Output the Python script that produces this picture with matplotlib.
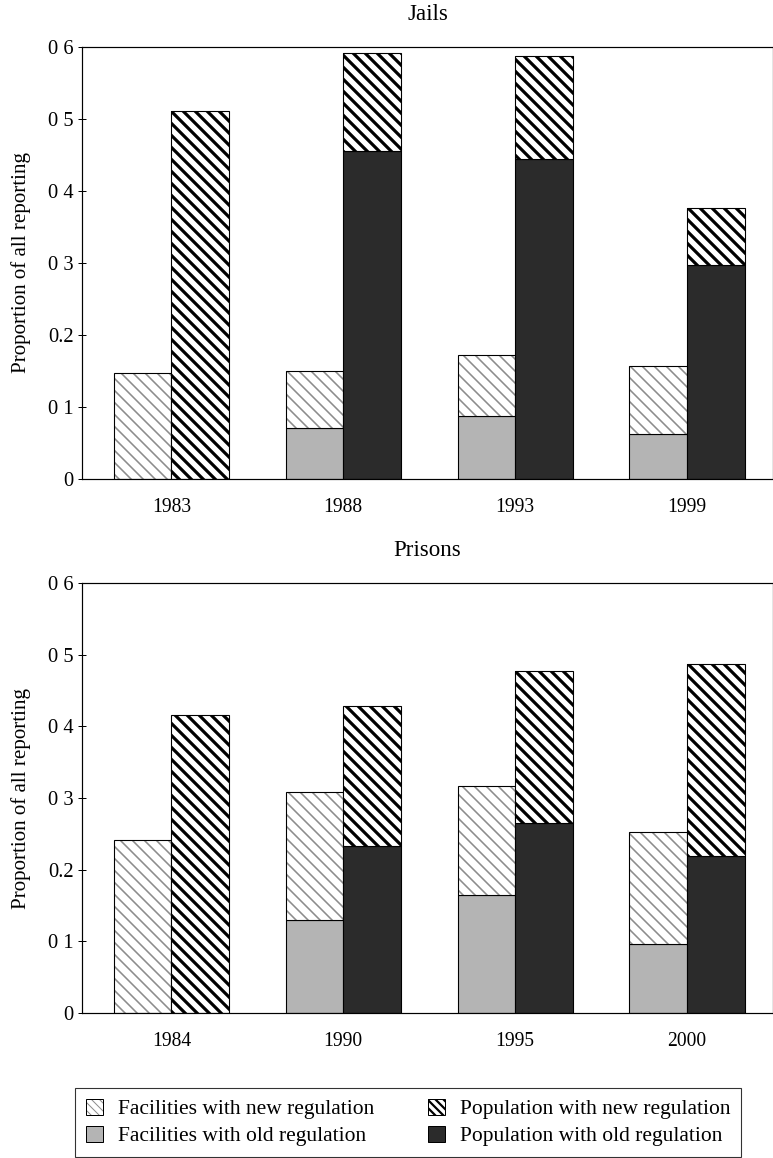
import matplotlib.pyplot as plt
import numpy as np
from matplotlib.patches import Patch, Rectangle
from matplotlib.legend_handler import HandlerBase

plt.rcParams["font.family"] = ["Liberation Serif", "DejaVu Serif"]

jail_years = ["1983", "1988", "1993", "1999"]
jail_fac_old = [0.0, 0.071, 0.088, 0.063]
jail_fac_total = [0.147, 0.150, 0.172, 0.157]
jail_pop_old = [0.0, 0.456, 0.445, 0.297]
jail_pop_total = [0.511, 0.591, 0.587, 0.376]

prison_years = ["1984", "1990", "1995", "2000"]
prison_fac_old = [0.0, 0.130, 0.165, 0.097]
prison_fac_total = [0.241, 0.309, 0.317, 0.252]
prison_pop_old = [0.0, 0.233, 0.265, 0.219]
prison_pop_total = [0.416, 0.429, 0.477, 0.487]

yticks = [0, 0.1, 0.2, 0.3, 0.4, 0.5, 0.6]
ytick_labels = ["0", "0 1", "0.2", "0 3", "0 4", "0 5", "0 6"]

FAC_OLD = "#b4b4b4"
POP_OLD = "#2b2b2b"
FAC_HATCH = "#8c8c8c"
W = 0.335
HATCH = "\\\\"


def hatched_bar(ax, x, h, bottom, hatch_color, lw):
    with plt.rc_context({"hatch.linewidth": lw, "hatch.color": hatch_color}):
        ax.bar(x, h, W, bottom=bottom, color="white", edgecolor=hatch_color,
               hatch=HATCH, linewidth=0)
    ax.bar(x, h, W, bottom=bottom, fill=False, edgecolor="black", linewidth=1.1)


class HatchHandler(HandlerBase):
    def __init__(self, hatch_color, lw):
        super().__init__()
        self.hatch_color = hatch_color
        self.lw = lw

    def create_artists(self, legend, orig_handle, xdescent, ydescent, width, height, fontsize, trans):
        with plt.rc_context({"hatch.linewidth": self.lw, "hatch.color": self.hatch_color}):
            r1 = Rectangle((-xdescent, -ydescent), width, height, facecolor="white",
                           edgecolor=self.hatch_color, hatch="\\\\\\", linewidth=0, transform=trans)
        r2 = Rectangle((-xdescent, -ydescent), width, height, fill=False,
                       edgecolor="black", linewidth=1, transform=trans)
        return [r1, r2]


def panel(ax, title, years, fac_old, fac_total, pop_old, pop_total):
    x = np.arange(len(years))
    fac_old = np.array(fac_old)
    pop_old = np.array(pop_old)
    fac_new = np.array(fac_total) - fac_old
    pop_new = np.array(pop_total) - pop_old
    ax.bar(x - W / 2, fac_old, W, color=FAC_OLD, edgecolor="black", linewidth=1.1)
    hatched_bar(ax, x - W / 2, fac_new, fac_old, FAC_HATCH, 1.6)
    ax.bar(x + W / 2, pop_old, W, color=POP_OLD, edgecolor="black", linewidth=1.1)
    hatched_bar(ax, x + W / 2, pop_new, pop_old, "black", 3.2)

    ax.set_xlim(-0.52, 3.5)
    ax.set_ylim(0, 0.6)
    ax.set_xticks(x)
    ax.set_xticklabels(years)
    ax.set_yticks(yticks)
    ax.set_yticklabels(ytick_labels)
    ax.tick_params(axis="x", length=0, pad=19, labelsize=19.5)
    ax.tick_params(axis="y", length=8, direction="inout", width=1, labelsize=20.5, pad=4)
    ax.set_ylabel("Proportion of all reporting", fontsize=21, labelpad=17)
    ax.set_title(title, fontsize=23, pad=27)
    for s in ax.spines.values():
        s.set_linewidth(1.2)


fig = plt.figure(figsize=(773 / 72, 1158 / 72), dpi=72)
ax1 = fig.add_axes([0.106, 0.5864, 0.894, 0.373])
ax2 = fig.add_axes([0.106, 0.1252, 0.894, 0.3713])

panel(ax1, "Jails", jail_years, jail_fac_old, jail_fac_total, jail_pop_old, jail_pop_total)
panel(ax2, "Prisons", prison_years, prison_fac_old, prison_fac_total, prison_pop_old, prison_pop_total)

h_fac_new = Patch(label="fac_new")
h_pop_new = Patch(label="pop_new")
handles = [
    h_fac_new,
    Patch(facecolor=FAC_OLD, edgecolor="black", linewidth=1),
    h_pop_new,
    Patch(facecolor=POP_OLD, edgecolor="black", linewidth=1),
]
labels = [
    "Facilities with new regulation",
    "Facilities with old regulation",
    "Population with new regulation",
    "Population with old regulation",
]
leg = fig.legend(handles, labels, ncol=2, loc="upper right",
                 bbox_to_anchor=(741 / 773, 1 - 1088 / 1158),
                 fontsize=21.5, frameon=True, fancybox=False,
                 edgecolor="black", handlelength=0.78, handleheight=0.78,
                 handletextpad=0.7, labelspacing=0.3, borderpad=0.5, columnspacing=2.5,
                 borderaxespad=0,
                 handler_map={h_fac_new: HatchHandler(FAC_HATCH, 1.0),
                              h_pop_new: HatchHandler("black", 2.2)})
leg.get_frame().set_linewidth(1.1)

fig.savefig("out.png", dpi=72)
